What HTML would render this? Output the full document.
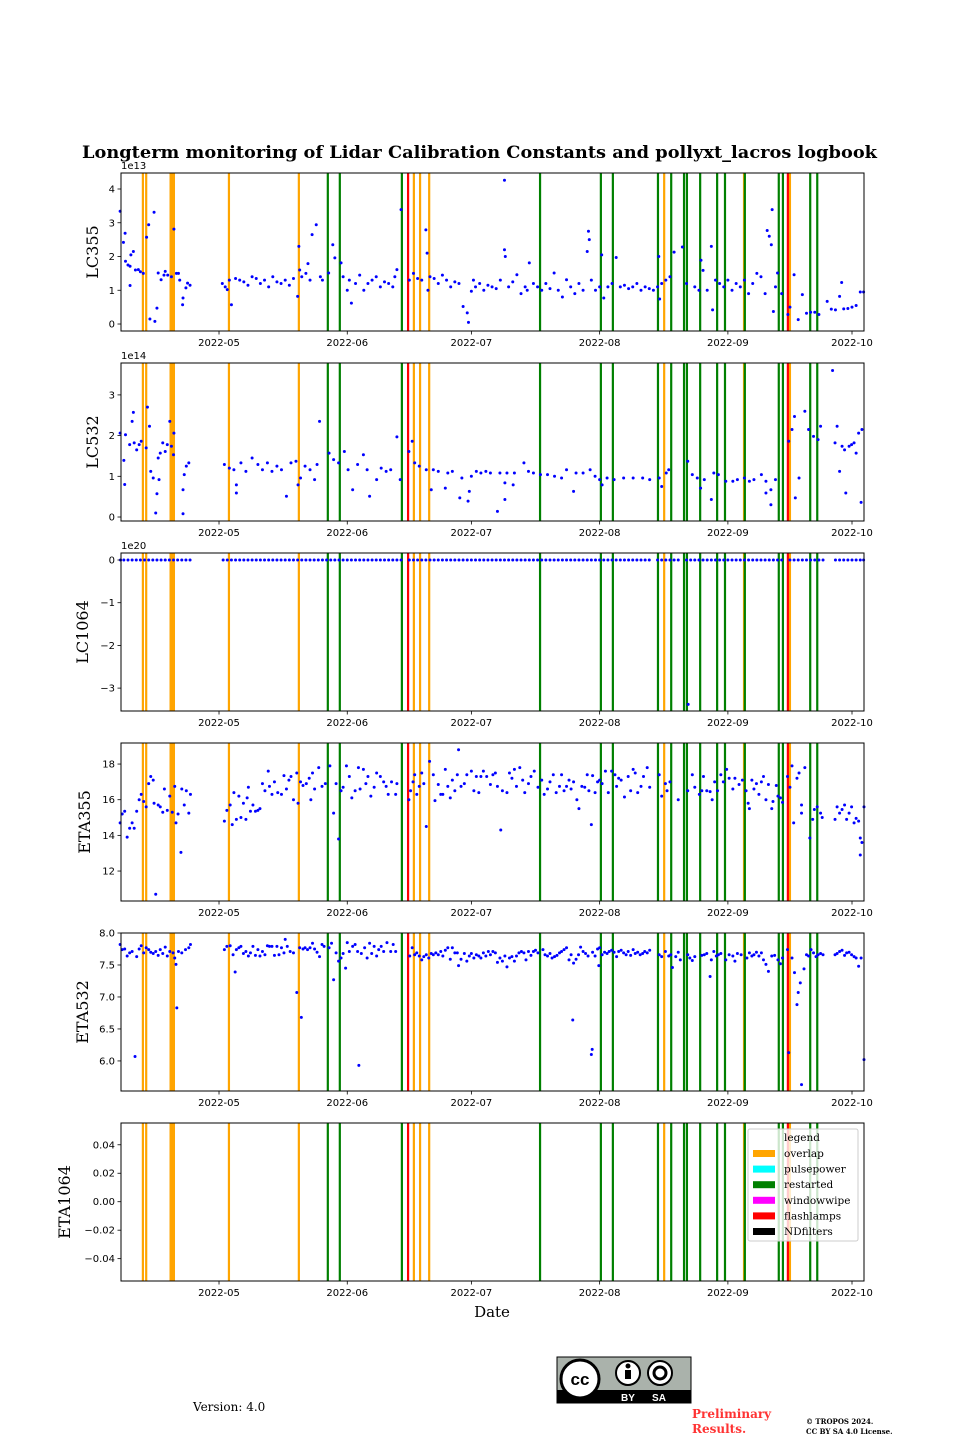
<!DOCTYPE html>
<html><head><meta charset="utf-8"><style>
body{margin:0;background:#fff;width:960px;height:1440px;overflow:hidden;position:relative}
svg{position:absolute;left:0;top:0}
</style></head><body>
<svg id="chart" width="960" height="1440" viewBox="0 0 960 1440">
<text x="82" y="158" textLength="795" lengthAdjust="spacingAndGlyphs" font-family="DejaVu Serif, serif" font-weight="bold" font-size="17">Longterm monitoring of Lidar Calibration Constants and pollyxt_lacros logbook</text>
<text x="492" y="1317" text-anchor="middle" font-family="DejaVu Serif, serif" font-size="15">Date</text>
<text x="193" y="1411" font-family="DejaVu Serif, serif" font-size="12">Version: 4.0</text>
<g>
<rect x="557" y="1357" width="134" height="46" fill="#aab2ab" stroke="#000" stroke-width="1"/>
<rect x="557" y="1390" width="134" height="13" fill="#000"/>
<circle cx="580" cy="1379" r="19" fill="#fff" stroke="#000" stroke-width="3"/>
<text x="580" y="1385" text-anchor="middle" font-family="Liberation Sans, sans-serif" font-weight="bold" font-size="17">cc</text>
<circle cx="628" cy="1373" r="12" fill="#fff" stroke="#000" stroke-width="2"/>
<circle cx="628" cy="1366" r="2.5" fill="#000"/><rect x="625" y="1370" width="6" height="9" fill="#000"/>
<circle cx="660" cy="1373" r="12" fill="#fff" stroke="#000" stroke-width="2"/>
<circle cx="660" cy="1373" r="6" fill="none" stroke="#000" stroke-width="3"/>
<text x="628" y="1401" text-anchor="middle" fill="#fff" font-family="Liberation Sans, sans-serif" font-weight="bold" font-size="10">BY</text>
<text x="659" y="1401" text-anchor="middle" fill="#fff" font-family="Liberation Sans, sans-serif" font-weight="bold" font-size="10">SA</text>
</g>
<text x="692" y="1418" fill="#ff3333" font-family="DejaVu Serif, serif" font-weight="bold" font-size="12">Preliminary</text>
<text x="692" y="1433" fill="#ff3333" font-family="DejaVu Serif, serif" font-weight="bold" font-size="12">Results.</text>
<text x="806" y="1424" font-family="DejaVu Serif, serif" font-weight="bold" font-size="7">© TROPOS 2024.</text>
<text x="806" y="1434" font-family="DejaVu Serif, serif" font-weight="bold" font-size="7">CC BY SA 4.0 License.</text>
</svg>
<script>
// event days (days since 2022-04-01)
const overlapDays=[11.6,12.4,18.3,18.7,19.1,32.4,49.3,77.1,78.6,80.8,137.6,156.9,168.0];
const restartedDays=[56.3,59.2,74.2,107.6,122.3,125.2,136.1,139.3,142.4,143.1,146.3,150.4,152.3,157.1,165.3,166.3,172.9,174.6];
const flashlampDays=[75.7,167.5];
const xTickDays=[30,61,91,122,153,183];
const xTickLabels=["2022-05","2022-06","2022-07","2022-08","2022-09","2022-10"];

const lc355=[[6.1,3.34],[6.9,2.42],[7.3,2.69],[7.4,1.86],[8,1.75],[8.5,1.71],[8.7,2.05],[9.3,2.15],[9.8,1.6],[10.5,1.61],[11,1.55],[11.7,1.5],[8.5,1.14],[12.5,2.57],[13,2.94],[14.3,3.31],[13.3,0.15],[14.5,0.08],[15,0.47],[15.3,1.51],[16,1.31],[16.7,1.45],[17,1.56],[17.6,1.45],[18.5,1.4],[19.1,2.81],[19.7,1.5],[20.2,1.5],[20.5,1.3],[21.2,0.57],[21.3,0.77],[22,1.07],[22.4,1.21],[23,1.15],
[30.8,1.2],[31.5,1.1],[32,1.02],[32.5,1.3],[33,0.57],[34,1.35],[35,1.3],[36,1.25],[37,1.15],[38,1.4],[39,1.35],[40,1.2],[41,1.3],[42,1.1],[43,1.4],[44,1.25],[45,1.2],[46,1.3],[47,1.15],[48,1.35],[49,0.82],[49.3,2.3],[49.5,1.6],[50,1.4],[51,1.5],[51.5,1.79],[52,1.3],[52.5,2.65],[53.5,2.94],[54.5,1.4],[55,1.3],[56.5,1.51],[57.5,2.35],[58,1.96],[59.5,1.81],[60,1.4],[61,1.0],[61.5,1.3],[62,0.62],[63,1.2],[64,1.45],[65,1.0],[66,1.2],[67,1.3],[68,1.4],[69,1.1],[70,1.25],[71,1.2],[72,1.1],[72.5,1.4],[73,1.61],[74,3.39],[76,1.3],[77,1.5],[78,1.35],[79,1.3],[80,2.79],[80.3,2.1],[80.5,1.0],[81,1.4],[82,1.35],[83,1.2],[84,1.45],[85,1.3],[86,1.1],[87,1.25],[88,1.2],[89,0.52],[90,0.33],[90.3,0.05],[91,0.97],[91.5,1.3],[92,1.1],[93,1.2],[94,1.0],[95,1.15],[96,1.1],[97,1.05],[98,1.3],[99,4.26],[99,2.2],[99.2,2.0],[100,1.1],[101,1.25],[102,1.46],[103,0.9],[104,1.1],[104.5,1.0],[105,1.81],[106,1.2],[107,1.1],[108,1.0],[109,1.2],[110,1.05],[111,1.51],[112,1.0],[113,0.8],[114,1.31],[115,1.1],[116,0.9],[117,1.2],[118,1.0],[119,2.15],[119.3,2.75],[119.5,2.5],[120,1.3],[121,1.0],[122,1.1],[122.5,2.05],[123,0.77],[124,1.1],[125,1.2],[126,1.97],[127,1.1],[128,1.15],[129,1.05],[130,1.1],[131,1.2],[132,1.0],[133,1.1],[134,1.05],[135,1.0],[136,1.1],[136.3,2.0],[136.5,0.74],[137,1.2],[138,1.3],[139,1.4],[140,2.13],[142,2.28],[143,1.2],[145,1.1],[146,1.0],[146.5,1.89],[147,1.59],[148,1.0],[149.3,0.42],[149,2.3],[150,1.3],[151,1.2],[152,1.1],[153,1.3],[154,1.0],[155,1.2],[156,1.1],[157,1.3],[158,0.9],[159,1.2],[160,1.5],[161,1.4],[162,0.9],[162.5,2.77],[163,2.6],[163.5,2.35],[163.7,3.39],[164,0.37],[164.5,1.1],[165,1.51],[166,0.9],[167.5,0.28],[168,0.5],[169,1.46],[170,0.13],[171,0.87],[172,0.32],[173,0.35],[174,0.35],[175,0.28],[177,0.67],[178,0.44],[179,0.42],[180,0.82],[180.5,1.23],[181,0.45],[182,0.46],[183,0.5],[184,0.55],[185,0.95],[185.8,0.95]];

const lc532=[[6.1,2.06],[7,1.39],[7.2,0.8],[7.4,2.02],[8.4,1.78],[9,2.35],[9.3,2.57],[9.5,1.82],[10.1,1.65],[10.7,1.78],[11.2,1.86],[12.4,1.7],[12.7,2.7],[13.2,2.23],[13.5,1.12],[14.1,0.96],[14.7,0.1],[15,0.57],[15.5,0.92],[15.3,1.45],[15.8,1.57],[16.4,1.82],[17,1.61],[17.5,1.78],[18.1,2.35],[18.5,1.74],[19.1,2.06],[19,1.53],[21.6,1.04],[21.3,0.67],[21.3,0.08],[22.1,1.25],[22.7,1.33],
[31.3,1.29],[32.5,1.2],[33.6,1.16],[34.2,0.79],[34.2,0.59],[35.3,1.33],[36.5,1.12],[38,1.45],[39.4,1.29],[40.5,1.16],[41.7,1.33],[42.8,1.12],[44,1.25],[45.1,1.16],[46.3,0.51],[47.4,1.33],[48.6,1.37],[49.1,0.79],[49.7,0.96],[50.8,1.25],[52,1.16],[53.1,0.92],[53.7,1.29],[54.3,2.35],[56.6,1.57],[57.7,1.41],[58.9,1.33],[60.3,1.61],[61.2,1.16],[62.3,0.67],[63.5,1.29],[64.9,1.53],[65.8,1.16],[66.4,0.51],[68.1,0.92],[69.2,1.2],[70.4,1.12],[71.5,1.16],[73,1.97],[73.8,0.92],[75.9,1.61],[76.7,1.86],[77.3,1.33],[78.4,1.25],[80.1,1.16],[81.3,0.67],[81.8,1.16],[83,1.12],[84.7,0.71],[85.3,1.08],[86.4,1.12],[88.2,0.47],[88.7,0.96],[90.5,0.63],[90.2,0.39],[91,1.0],[92.2,1.12],[93.3,1.08],[94.5,1.12],[95.6,1.08],[97.3,0.14],[97.9,1.08],[99.1,0.43],[99.1,0.84],[99.6,1.08],[101.1,0.79],[101.4,1.08],[103.7,1.33],[104.8,1.12],[106,1.08],[107.7,1.04],[109.4,1.04],[111.1,1.0],[112.8,0.96],[114,1.16],[115.7,0.63],[116.3,1.08],[118,1.08],[119.7,1.16],[120.9,1.0],[122,0.92],[122.6,0.79],[123.8,0.96],[125.5,0.92],[127.8,0.96],[130.1,0.96],[132.4,0.96],[134.1,0.92],[136.4,0.96],[137,0.75],[138.1,1.08],[138.7,1.16],[143.3,1.37],[144.4,1.04],[145.6,0.96],[146.4,0.71],[147.3,0.92],[149,0.43],[149.6,1.08],[150.7,1.04],[152.5,0.88],[154.2,0.88],[155.3,0.92],[157,0.96],[158.2,0.88],[159.3,0.92],[161.1,1.04],[162.2,0.88],[162.2,0.59],[163.4,0.67],[163.4,0.3],[164.5,0.92],[167.7,1.86],[168.5,2.15],[169.1,2.47],[169.3,0.47],[170.2,0.96],[171.6,2.6],[172.5,2.15],[173.7,1.98],[174.8,1.9],[175.4,2.23],[178.3,3.6],[178.9,1.82],[179.4,2.23],[180,1.12],[180.6,1.74],[181.2,1.65],[181.5,0.59],[182.3,1.74],[182.9,1.78],[183.5,1.82],[184,1.57],[184.6,2.06],[185.2,0.36],[185.4,2.15]];

const lc1064Days=[143.4,6.2,7,8,9,10,11,12,13,14,15,16,17,18,19,20,21,22,23,31,32,33,34,35,36,37,38,39,40,41,42,43,44,45,46,47,48,49,50,51,52,53,54,55,56,57,58,59,60,61,62,63,64,65,66,67,68,69,70,71,72,73,74,76,77,78,79,80,81,82,83,84,85,86,87,88,89,90,91,92,93,94,95,96,97,98,99,100,101,102,103,104,105,106,107,108,109,110,111,112,113,114,115,116,117,118,119,120,121,122,123,124,125,126,127,128,129,130,131,132,133,134,136,137,138,139,140,141,143,144,145,146,147,148,149,150,151,152,153,154,155,156,157,158,159,160,161,162,163,164,165,166,168,169,170,171,172,173,174,175,176,179,180,181,182,183,184,185,185.8];
const lc1064Vals=[-3.38,0,0,0,0,0,0,0,0,0,0,0,0,0,0,0,0,0,0,0,0,0,0,0,0,0,0,0,0,0,0,0,0,0,0,0,0,0,0,0,0,0,0,0,0,0,0,0,0,0,0,0,0,0,0,0,0,0,0,0,0,0,0,0,0,0,0,0,0,0,0,0,0,0,0,0,0,0,0,0,0,0,0,0,0,0,0,0,0,0,0,0,0,0,0,0,0,0,0,0,0,0,0,0,0,0,0,0,0,0,0,0,0,0,0,0,0,0,0,0,0,0,0,0,0,0,0,0,0,0,0,0,0,0,0,0,0,0,0,0,0,0,0,0,0,0,0,0,0,0,0,0,0,0,0,0,0,0,0,0,0,0,0,0,0,0,0,0,0];

const eta355=[[6.1,14.7],[6.6,15.2],[7.2,15.35],[7.8,13.9],[8.4,14.4],[9,14.7],[9.5,14.4],[10.1,15.35],[10.7,16],[11.2,16.3],[11.8,15.9],[12.4,15.6],[13,16.9],[13.5,17.3],[14.1,17.1],[14.3,15.8],[14.7,10.7],[15.3,15.7],[15.8,15.6],[16.4,15.3],[16.8,16.6],[17.5,15.4],[18.1,16.2],[18.7,15.3],[19.3,16.75],[19.6,14.7],[20.1,15.2],[20.8,13.05],[21,16.6],[21.6,15.7],[22.1,16.5],[22.7,15.25],[23.1,16.3],
[31.3,14.8],[31.9,15.4],[32.7,15.7],[33.2,14.6],[33.6,16.4],[34.2,14.9],[34.8,16.2],[35.3,15],[35.9,15.8],[36.5,14.9],[36.8,16.1],[37.1,16.7],[37.6,15.35],[38.2,15.7],[38.8,15.35],[39.4,15.4],[39.9,15.5],[40.5,16.9],[41.1,16.5],[41.9,17.6],[42.2,16.75],[42.8,16.3],[43.4,17],[44.2,16.4],[45.1,16.3],[45.7,17.35],[46.3,16.6],[46.9,17.1],[47.4,17.3],[48,16],[48.8,17.5],[49.1,15.8],[49.7,17],[50.3,16.8],[51.1,16.9],[51.8,17.2],[52.2,16],[52.6,17.5],[53.1,16.6],[54.1,17.8],[54.9,16.75],[55.7,16.9],[56.8,17.9],[57.7,15.25],[58.3,16.9],[58.9,13.8],[59.5,16.5],[60,16.7],[60.8,17.9],[61.5,17.3],[62.1,16.1],[62.9,16.5],[63.7,17.8],[64.1,16.6],[64.9,17.7],[65.5,16.9],[66,17.3],[66.7,16.2],[67.5,16.7],[68.1,17.5],[69,17.3],[69.8,17],[70.4,16.75],[70.9,16.3],[71.7,17],[72.7,16.3],[73,16.9],[75.9,16],[76.3,16.5],[76.9,17],[77.3,17.4],[77.8,16.3],[78.4,16.75],[79,17.5],[79.5,16.9],[80.1,14.5],[80.9,18.15],[81.8,17.4],[82.2,15.95],[83,16.85],[83.6,16.3],[84.1,16.3],[84.7,17.7],[85.3,16.75],[85.9,16.1],[86.4,17.1],[87,16.5],[87.6,17.4],[87.9,18.8],[88.5,16.75],[89.3,16.9],[89.9,17.4],[91,17.6],[91.6,16.5],[92.2,17.3],[92.8,16.4],[93.3,17.3],[93.9,17.6],[94.7,17.3],[95.6,16.85],[96.2,17.4],[96.8,17.5],[97.3,16.75],[98.1,14.3],[98.5,16.5],[99.6,16.4],[100.2,17.5],[100.8,17.2],[101.4,17.7],[101.9,16.75],[102.7,17.8],[103.4,17.1],[103.9,16.4],[104.8,16.9],[105.4,17.3],[106.2,17.6],[107.1,16.7],[108,17.1],[108.6,16.3],[109.4,16.6],[110,17],[110.8,17.4],[111.5,16.4],[112.3,16.75],[112.8,17.4],[113.4,16.5],[114,16.75],[114.6,17.1],[115.1,16.6],[115.7,17],[116.5,16],[117,15.5],[117.7,16.75],[118.4,16.7],[119,17.4],[119.4,16.5],[120,14.6],[120.3,17.35],[120.9,16.4],[121.5,17],[122,17.1],[122.6,16.9],[123.4,17.6],[124.1,16.4],[124.9,17.6],[125.7,17.4],[126.1,16.75],[126.6,17.2],[127.2,17.1],[128,16.15],[128.9,17.3],[129.5,16.5],[130.1,17.7],[130.6,17.5],[131.2,16.4],[132,16.75],[132.6,17.3],[133.5,17.8],[134.1,16.7],
[136.4,17.4],[137,16.2],[137.9,16.9],[138.3,16.5],[139,17],[141,16],[143.3,16.5],[144.4,17.4],[145,16.7],[146.1,16.3],[146.7,16.5],[147.1,17.3],[147.9,16.5],[148.7,16.45],[149.2,16],[149.8,17],[150.5,16.5],[151.3,17.4],[151.9,17],[152.7,17.7],[153.3,17.2],[154.2,16.6],[154.7,17.2],[155.7,16.85],[156.5,17.1],[157.4,16.5],[157.9,15.8],[158.2,15.5],[158.8,17.1],[159.3,16.6],[159.9,16.9],[160.5,16.3],[161.1,17],[161.6,17.3],[162.2,16],[162.8,16.85],[163.6,15.5],[163.9,15.9],[164.7,16.8],[165.1,16.2],[165.7,16.1],[166.2,15.85],[167.4,17.3],[168,16.7],[168.5,17.9],[168.9,14.7],[169.7,17.2],[170.2,17.5],[170.8,15.7],[170.8,15.25],[171.6,17.8],[172.8,13.85],[173.5,14.9],[173.9,15.45],[174.6,15.6],[175.4,15.25],[175.8,15],
[178.9,14.9],[179.4,15.6],[180,15.25],[180.6,15.45],[181.2,15.7],[181.7,14.9],[182.3,15.25],[182.9,15.6],[183.5,14.7],[184,14.95],[184.6,14.8],[185,13.85],[185.4,13.6],[185,12.9],[185.9,15.6]];

const eta532=[[6.1,7.82],[6.6,7.74],[7.2,7.75],[7.8,7.64],[8.4,7.69],[9,7.71],[9.7,6.07],[10.1,7.63],[10.7,7.75],[11.2,7.8],[11.8,7.69],[12.4,7.77],[13,7.74],[13.5,7.7],[14.1,7.68],[14.7,7.71],[15.3,7.65],[15.8,7.74],[16.4,7.68],[17,7.78],[17.5,7.64],[18.1,7.71],[18.9,7.69],[19.3,7.61],[19.6,7.51],[19.8,6.83],[20.2,7.71],[21,7.69],[21.9,7.74],[22.7,7.77],[23.1,7.82],
[31.3,7.74],[31.9,7.79],[32.7,7.8],[33.4,7.66],[33.9,7.39],[34.2,7.74],[34.8,7.77],[35.3,7.79],[35.9,7.68],[36.5,7.71],[37.1,7.64],[37.6,7.69],[38.2,7.79],[38.8,7.65],[39.4,7.74],[39.9,7.64],[40.5,7.71],[41.1,7.66],[41.7,7.8],[42.2,7.79],[42.8,7.79],[43.4,7.65],[44,7.79],[44.5,7.66],[45.1,7.77],[45.7,7.69],[46,7.9],[46.5,7.79],[47.2,7.71],[48,7.69],[48.8,7.07],[49.5,7.77],[49.9,6.68],[50.3,7.75],[50.8,7.77],[51.4,7.74],[52,7.77],[52.6,7.84],[53.1,7.75],[53.7,7.7],[54.3,7.63],[54.9,7.82],[55.4,7.79],[56.6,7.77],[57.2,7.84],[57.7,7.27],[58.3,7.69],[58.9,7.56],[59.5,7.61],[60,7.68],[60.6,7.45],[61,7.85],[61.5,7.71],[62.3,7.79],[62.9,7.82],[63.5,7.71],[63.8,5.93],[64.4,7.68],[65.2,7.77],[65.8,7.61],[66.4,7.84],[66.9,7.68],[67.5,7.79],[68.1,7.64],[68.6,7.74],[69.2,7.79],[69.8,7.71],[70.6,7.85],[71.5,7.71],[72.1,7.82],[72.7,7.71],
[76.1,7.64],[76.7,7.77],[77.3,7.66],[77.8,7.69],[78.4,7.64],[79,7.58],[79.5,7.63],[80.1,7.66],[80.7,7.61],[81.3,7.68],[81.8,7.66],[82.4,7.69],[83,7.66],[83.6,7.71],[84.1,7.64],[84.7,7.73],[85.3,7.77],[85.9,7.59],[86.4,7.77],[87,7.69],[87.6,7.69],[87.9,7.49],[88.5,7.59],[89.3,7.68],[89.9,7.56],[90.5,7.64],[91,7.68],[91.6,7.61],[92.2,7.66],[92.8,7.64],[93.3,7.61],[93.9,7.69],[94.5,7.64],[95.1,7.71],[95.6,7.66],[96.2,7.71],[96.8,7.69],[97.3,7.54],[97.9,7.61],[98.5,7.56],[99.1,7.64],[99.6,7.47],[100.2,7.61],[100.8,7.63],[101.4,7.56],[101.9,7.64],[102.5,7.69],[103.1,7.71],[103.7,7.69],[104.2,7.58],[104.8,7.71],[105.4,7.65],[106,7.71],[106.5,7.73],[107.1,7.69],[108.3,7.74],[108.8,7.66],[109.4,7.64],[110,7.68],[110.5,7.61],[111.1,7.63],[111.7,7.65],[112.3,7.69],[112.8,7.71],[113.4,7.74],[114,7.77],[114.6,7.58],[115.1,7.66],[115.5,6.64],[115.7,7.53],[116.3,7.59],[116.9,7.66],[117.4,7.78],[118,7.71],[118.6,7.68],[119.2,7.64],[120,6.1],[120.2,6.18],[120.3,7.7],[120.9,7.64],[121.5,7.75],[121.8,7.49],[122,7.77],[122.6,7.66],[123.2,7.7],[123.8,7.68],[124.3,7.71],[124.9,7.73],[125.5,7.7],[126.1,7.63],[126.6,7.71],[127.2,7.73],[127.8,7.69],[128.4,7.66],[128.9,7.71],[129.5,7.65],[130.1,7.74],[130.6,7.68],[131.2,7.7],[131.8,7.66],[132.4,7.68],[132.9,7.71],[133.5,7.69],[134.1,7.73],
[136.4,7.66],[137,7.63],[137.9,7.71],[138.7,7.64],[139.2,7.66],[139.6,7.46],[140.4,7.63],[141,7.7],[141.5,7.58],[143.3,7.66],[143.8,7.61],[144.4,7.57],[145,7.63],[146.7,7.65],[147.3,7.66],[147.9,7.68],[148.7,7.32],[149,7.58],[149.6,7.71],[150.2,7.64],[150.7,7.66],[151.3,7.68],[152.5,7.58],[153.3,7.66],[154.2,7.64],[154.7,7.56],[155.3,7.68],[156.2,7.66],[157.6,7.61],[158.2,7.69],[158.8,7.64],[159.3,7.66],[159.9,7.7],[160.5,7.64],[161.1,7.69],[161.6,7.58],[162.2,7.51],[162.8,7.4],[163.6,7.64],[164.3,7.65],[165.1,7.58],[165.7,7.52],[166.2,7.61],[167.4,7.74],[167.7,6.13],[168.5,7.61],[169.1,7.38],[169.7,6.88],[170,7.07],[170.5,7.22],[170.8,5.63],[171.4,7.44],[172,7.66],[172.5,7.64],[173.1,7.74],[173.7,7.69],[174.3,7.63],[174.8,7.66],[175.4,7.68],[176,7.66],[178.9,7.66],[179.4,7.68],[180,7.71],[180.6,7.73],[181.2,7.65],[181.7,7.69],[182.3,7.7],[182.9,7.66],[183.5,7.63],[184,7.61],[184.6,7.48],[185.2,7.61],[185.9,6.02]];

const legendLabels=["overlap","pulsepower","restarted","windowwipe","flashlamps","NDfilters"];
const legendColors=["#ffa500","#00ffff","#008000","#ff00ff","#ff0000","#000000"];

const NS="http://www.w3.org/2000/svg";
const svg=document.getElementById('chart');
const L=121,R=864,D0=6.31,D1=185.9;
function xs(d){return L+(d-D0)/(D1-D0)*(R-L);}
function mk(tag,attrs,parent){const e=document.createElementNS(NS,tag);for(const k in attrs)e.setAttribute(k,attrs[k]);(parent||svg).appendChild(e);return e;}

const panels=[
 {name:"lc355",label:"LC355",top:173,min:-0.207,max:4.474,ticks:[0,1,2,3,4],tl:["0","1","2","3","4"],exp:"1e13",data:lc355,lx:92},
 {name:"lc532",label:"LC532",top:363,min:-0.098,max:3.784,ticks:[0,1,2,3],tl:["0","1","2","3"],exp:"1e14",data:lc532,lx:92},
 {name:"lc1064",label:"LC1064",top:553,min:-3.536,max:0.164,ticks:[-3,-2,-1,0],tl:["−3","−2","−1","0"],exp:"1e20",data:lc1064Days.map((d,i)=>[d,lc1064Vals[i]]),lx:82},
 {name:"eta355",label:"ETA355",top:743,min:10.32,max:19.18,ticks:[12,14,16,18],tl:["12","14","16","18"],exp:null,data:eta355,lx:84},
 {name:"eta532",label:"ETA532",top:933,min:5.53,max:8.0,ticks:[6,6.5,7,7.5,8],tl:["6.0","6.5","7.0","7.5","8.0"],exp:null,data:eta532,lx:82},
 {name:"eta1064",label:"ETA1064",top:1123,min:-0.0557,max:0.0553,ticks:[-0.04,-0.02,0,0.02,0.04],tl:["−0.04","−0.02","0.00","0.02","0.04"],exp:null,data:[],lx:64}
];
const H=158;
panels.forEach((p,pi)=>{
 const g=mk('g',{});
 
 
 const ys=v=>p.top+H-(v-p.min)/(p.max-p.min)*H;
 const lines=[[overlapDays,'#ffa500','overlap'],[restartedDays,'#008000','restarted'],[flashlampDays,'#ff0000','flashlamp']];
 lines.forEach(([arr,col,nm])=>arr.forEach(d=>{
  const l=mk('line',{x1:xs(d),x2:xs(d),y1:p.top,y2:p.top+H,stroke:col,'stroke-width':2.2},g);
  
  
 }));
 p.data.forEach(([d,v])=>{
  if(v===undefined||isNaN(v))return;
  const c=mk('circle',{cx:xs(d),cy:ys(v),r:1.5,fill:'#0000ff'},g);
  
  
 });
 const fr=mk('rect',{x:L,y:p.top,width:R-L,height:H,fill:'none',stroke:'#000','stroke-width':1},g);
 
 
 p.ticks.forEach((t,i)=>{
  const y=ys(t);
  mk('line',{x1:L-3.5,x2:L,y1:y,y2:y,stroke:'#000','stroke-width':0.8},g);
  const tx=mk('text',{x:L-6,y:y+3.5,'text-anchor':'end','font-family':'DejaVu Sans, sans-serif','font-size':10},g);
  tx.textContent=p.tl[i];
  
  
 });
 xTickDays.forEach((d,i)=>{
  const x=xs(d);
  mk('line',{x1:x,x2:x,y1:p.top+H,y2:p.top+H+3.5,stroke:'#000','stroke-width':0.8},g);
  const tx=mk('text',{x:x,y:p.top+H+15,'text-anchor':'middle','font-family':'DejaVu Sans, sans-serif','font-size':10},g);
  tx.textContent=xTickLabels[i];
  
  
 });
 if(p.exp){
  const e=mk('text',{x:L,y:p.top-4,'font-family':'DejaVu Sans, sans-serif','font-size':10},g);
  e.textContent=p.exp;
  
  
 }
 const cy=p.top+H/2;
 const yl=mk('text',{x:p.lx+6,y:cy,'text-anchor':'middle','font-family':'DejaVu Serif, serif','font-size':16,transform:`rotate(-90 ${p.lx+6} ${cy})`},g);
 yl.textContent=p.label;
 
 
});
// legend
const lg=mk('g',{});


mk('rect',{x:748,y:1129,width:110,height:112,rx:2,fill:'#fff','fill-opacity':0.8,stroke:'#ccc'},lg);
const lt=mk('text',{x:784,y:1141,'font-family':'DejaVu Serif, serif','font-size':10.5},lg);
lt.textContent='legend';
legendLabels.forEach((lab,i)=>{
 const y=1157+i*15.6;
 const r=mk('rect',{x:753,y:y-7,width:22,height:7,fill:legendColors[i]},lg);
 
 
 const t=mk('text',{x:784,y:y,'font-family':'DejaVu Serif, serif','font-size':10.5},lg);
 t.textContent=lab;
 
 
});
</script>
</body></html>
